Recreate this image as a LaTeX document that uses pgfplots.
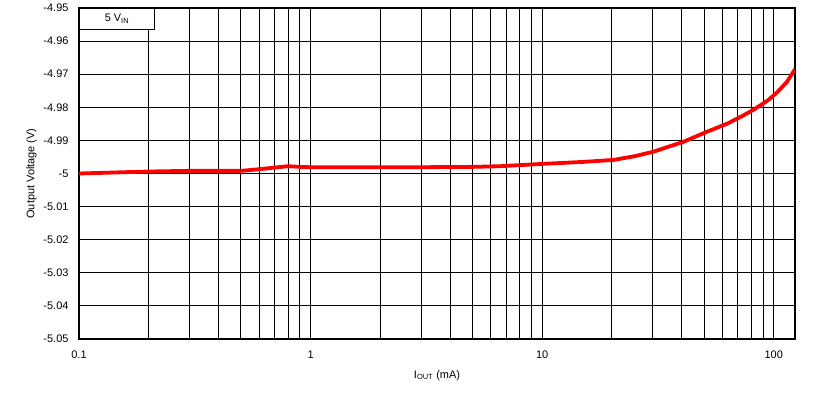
\documentclass[border=0pt]{standalone}
\usepackage{fontspec}
\setmainfont{Liberation Sans}
\usepackage{pgfplots}
\pgfplotsset{compat=1.18}
\begin{document}
\begin{tikzpicture}[x=1bp,y=1bp]
\useasboundingbox (0,0) rectangle (826,401);
\begin{axis}[
  at={(79bp,62bp)}, anchor=south west,
  scale only axis, width=716bp, height=331bp,
  xmode=log, xmin=0.1, xmax=123.5,
  ymin=-5.05, ymax=-4.95,
  ytick={-5.05,-5.04,...,-4.95},
  yticklabels={-5.05,-5.04,-5.03,-5.02,-5.01,-5,-4.99,-4.98,-4.97,-4.96,-4.95},
  xtick={0.1,1,10,100},
  xticklabels={0.1,1,10,100},
  minor xtick={0.2,0.3,0.4,0.5,0.6,0.7,0.8,0.9,2,3,4,5,6,7,8,9,20,30,40,50,60,70,80,90},
  grid=both,
  major grid style={black, line width=1bp},
  minor grid style={black, line width=1bp},
  axis line style={black, line width=2bp},
  tick style={draw=none},
  tick label style={font=\fontsize{11}{13}\selectfont},
  xticklabel style={yshift=-8bp},
  yticklabel style={xshift=-7bp},
  xlabel={I\textsubscript{\fontsize{7.5}{8}\selectfont OUT} (mA)},
  ylabel={Output Voltage (V)},
  label style={font=\fontsize{11}{13}\selectfont},
  xlabel style={yshift=-5bp},
  ylabel style={yshift=0bp},
  clip=true,
]
\addplot[red, line width=3.8bp, line join=round] coordinates {
(0.1,-5.0000) (0.15,-4.99965) (0.2,-4.9994) (0.3,-4.9992) (0.5,-4.9992)
(0.6,-4.9987) (0.7,-4.9982) (0.8,-4.9978) (0.9,-4.9980) (1,-4.9981)
(2,-4.9981) (3,-4.9981) (5,-4.9980) (6.57,-4.9978) (10,-4.9971)
(15,-4.9965) (20.3,-4.9959) (25,-4.9948) (30.3,-4.9934) (40.8,-4.9904)
(51.4,-4.9874) (62.7,-4.9850) (72.4,-4.9828) (82.4,-4.9806) (94.8,-4.9778)
(104,-4.9753) (114,-4.9723) (123.5,-4.9685)
};
\node[draw=black, line width=1bp, fill=white, anchor=north west, minimum width=75bp, minimum height=21bp, inner sep=0pt, font=\fontsize{11}{13}\selectfont] at (rel axis cs:0,1) {5 V\textsubscript{\fontsize{7.5}{8}\selectfont IN}};
\end{axis}
\end{tikzpicture}
\end{document}
